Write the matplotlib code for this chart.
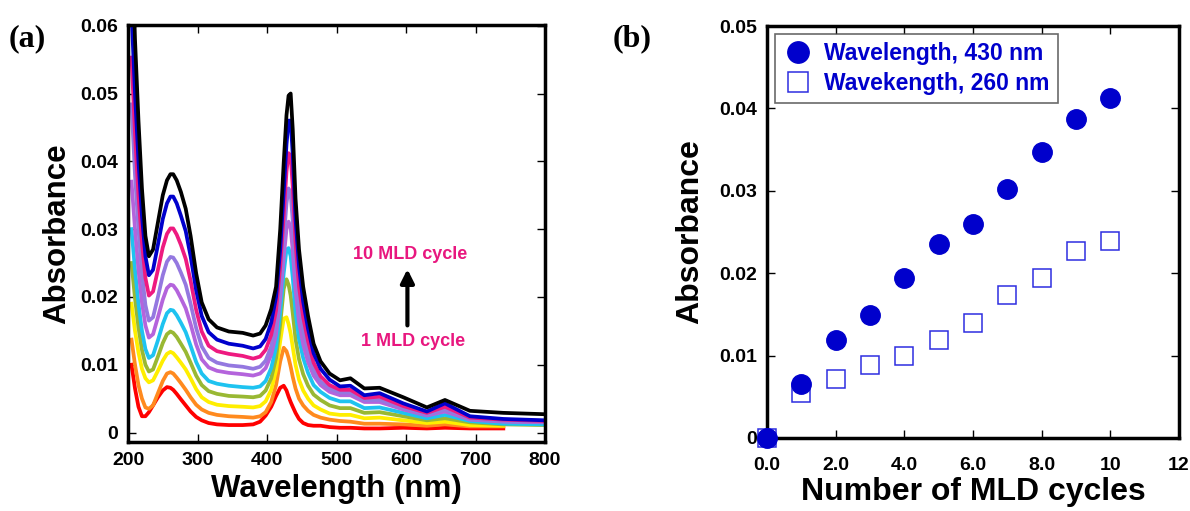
import numpy as np
import matplotlib
matplotlib.use("Agg")
import matplotlib.pyplot as plt

plt.rcParams['font.family'] = ['Liberation Sans', 'DejaVu Sans']
plt.rcParams['font.weight'] = 'bold'

# UV-vis spectra, one curve per MLD cycle (1 -> 10)
wavelength = [205, 210, 215, 220, 225, 230, 236, 243, 250, 256,
              261, 265, 270, 276, 283, 290, 298, 306, 316, 328,
              345, 365, 380, 390, 398, 406, 413, 419, 424, 428,
              431, 434, 437, 441, 446, 452, 459, 467, 477, 490,
              505, 520, 540, 562, 596, 630, 656, 692, 740, 800]
nan = np.nan

cycle1 = [0.0100, 0.0065, 0.0038, 0.0024, 0.0024, 0.0030, 0.0040, 0.0052, 0.0062, 0.0067,
          0.0066, 0.0063, 0.0057, 0.0049, 0.0040, 0.0031, 0.0023, 0.0018, 0.0014, 0.0012,
          0.0011, 0.0011, 0.0012, 0.0016, 0.0025, 0.0038, 0.0054, 0.0066, 0.0069, 0.0062,
          0.0053, 0.0045, 0.0038, 0.0029, 0.0020, 0.0014, 0.0011, 0.0010, 0.0010, 0.0008,
          0.0007, 0.0007, 0.0006, 0.0006, 0.0007, 0.0006, 0.0007, 0.0006, 0.0006, nan]
cycle2 = [0.0137, 0.0100, 0.0070, 0.0050, 0.0037, 0.0035, 0.0040, 0.0058, 0.0076, 0.0087,
          0.0089, 0.0087, 0.0081, 0.0073, 0.0063, 0.0052, 0.0041, 0.0034, 0.0029, 0.0026,
          0.0024, 0.0023, 0.0022, 0.0024, 0.0030, 0.0045, 0.0070, 0.0105, 0.0125, 0.0120,
          0.0110, 0.0097, 0.0082, 0.0065, 0.0050, 0.0040, 0.0032, 0.0026, 0.0022, 0.0019,
          0.0017, 0.0016, 0.0013, 0.0013, 0.0012, 0.0010, 0.0012, 0.0009, 0.0009, nan]
cycle3 = [0.0190, 0.0150, 0.0118, 0.0094, 0.0080, 0.0074, 0.0077, 0.0091, 0.0106, 0.0116,
          0.0119, 0.0117, 0.0111, 0.0103, 0.0093, 0.0080, 0.0064, 0.0052, 0.0045, 0.0041,
          0.0039, 0.0038, 0.0037, 0.0039, 0.0046, 0.0063, 0.0092, 0.0135, 0.0168, 0.0170,
          0.0160, 0.0146, 0.0126, 0.0100, 0.0078, 0.0062, 0.0050, 0.0040, 0.0034, 0.0028,
          0.0026, 0.0026, 0.0021, 0.0022, 0.0018, 0.0014, 0.0016, 0.0011, 0.0010, nan]
cycle4 = [0.0250, 0.0198, 0.0155, 0.0122, 0.0100, 0.0090, 0.0093, 0.0112, 0.0132, 0.0145,
          0.0149, 0.0147, 0.0141, 0.0131, 0.0119, 0.0103, 0.0084, 0.0070, 0.0061, 0.0057,
          0.0054, 0.0053, 0.0052, 0.0054, 0.0062, 0.0080, 0.0110, 0.0160, 0.0212, 0.0226,
          0.0218, 0.0202, 0.0176, 0.0138, 0.0108, 0.0086, 0.0069, 0.0056, 0.0048, 0.0040,
          0.0036, 0.0036, 0.0029, 0.0030, 0.0024, 0.0018, 0.0021, 0.0015, 0.0012, 0.0011]
cycle5 = [0.0300, 0.0240, 0.0190, 0.0150, 0.0123, 0.0110, 0.0114, 0.0136, 0.0160, 0.0176,
          0.0181, 0.0180, 0.0173, 0.0162, 0.0148, 0.0128, 0.0104, 0.0087, 0.0076, 0.0072,
          0.0069, 0.0067, 0.0066, 0.0068, 0.0076, 0.0095, 0.0126, 0.0178, 0.0235, 0.0270,
          0.0272, 0.0260, 0.0228, 0.0178, 0.0138, 0.0110, 0.0088, 0.0070, 0.0060, 0.0051,
          0.0046, 0.0046, 0.0036, 0.0037, 0.0029, 0.0021, 0.0026, 0.0017, 0.0013, 0.0012]
cycle6 = [0.0370, 0.0300, 0.0240, 0.0192, 0.0158, 0.0140, 0.0145, 0.0170, 0.0196, 0.0213,
          0.0218, 0.0217, 0.0210, 0.0198, 0.0183, 0.0160, 0.0130, 0.0108, 0.0096, 0.0091,
          0.0088, 0.0086, 0.0084, 0.0087, 0.0095, 0.0115, 0.0145, 0.0198, 0.0258, 0.0300,
          0.0311, 0.0302, 0.0268, 0.0210, 0.0163, 0.0130, 0.0104, 0.0084, 0.0070, 0.0060,
          0.0055, 0.0055, 0.0045, 0.0045, 0.0034, 0.0025, 0.0031, 0.0019, 0.0016, 0.0015]
cycle7 = [0.0484, 0.0380, 0.0300, 0.0235, 0.0188, 0.0165, 0.0170, 0.0200, 0.0232, 0.0252,
          0.0259, 0.0258, 0.0250, 0.0236, 0.0218, 0.0190, 0.0154, 0.0127, 0.0110, 0.0103,
          0.0099, 0.0097, 0.0094, 0.0097, 0.0106, 0.0127, 0.0160, 0.0218, 0.0285, 0.0338,
          0.0360, 0.0352, 0.0312, 0.0243, 0.0188, 0.0150, 0.0119, 0.0092, 0.0075, 0.0065,
          0.0059, 0.0059, 0.0048, 0.0048, 0.0036, 0.0026, 0.0034, 0.0020, 0.0017, 0.0016]
cycle8 = [0.0553, 0.0440, 0.0350, 0.0280, 0.0228, 0.0202, 0.0208, 0.0240, 0.0273, 0.0293,
          0.0301, 0.0301, 0.0292, 0.0277, 0.0256, 0.0224, 0.0181, 0.0149, 0.0128, 0.0120,
          0.0116, 0.0113, 0.0109, 0.0112, 0.0122, 0.0144, 0.0180, 0.0245, 0.0320, 0.0385,
          0.0412, 0.0408, 0.0362, 0.0280, 0.0215, 0.0170, 0.0135, 0.0103, 0.0083, 0.0070,
          0.0063, 0.0063, 0.0051, 0.0053, 0.0039, 0.0029, 0.0038, 0.0022, 0.0019, 0.0017]
cycle9 = [0.0620, 0.0500, 0.0400, 0.0320, 0.0260, 0.0232, 0.0240, 0.0277, 0.0315, 0.0338,
          0.0348, 0.0348, 0.0338, 0.0320, 0.0297, 0.0260, 0.0210, 0.0172, 0.0148, 0.0137,
          0.0131, 0.0128, 0.0124, 0.0127, 0.0138, 0.0162, 0.0200, 0.0270, 0.0355, 0.0425,
          0.0460, 0.0460, 0.0410, 0.0315, 0.0245, 0.0193, 0.0153, 0.0117, 0.0094, 0.0078,
          0.0068, 0.0069, 0.0055, 0.0058, 0.0043, 0.0031, 0.0043, 0.0024, 0.0020, 0.0018]
cycle10 = [0.0750, 0.0580, 0.0460, 0.0360, 0.0290, 0.0260, 0.0270, 0.0310, 0.0350, 0.0372,
           0.0381, 0.0381, 0.0372, 0.0355, 0.0330, 0.0290, 0.0235, 0.0192, 0.0167, 0.0155,
           0.0149, 0.0147, 0.0143, 0.0146, 0.0158, 0.0182, 0.0215, 0.0300, 0.0398, 0.0468,
           0.0497, 0.0500, 0.0447, 0.0345, 0.0270, 0.0215, 0.0172, 0.0131, 0.0105, 0.0087,
           0.0077, 0.0080, 0.0065, 0.0066, 0.0052, 0.0037, 0.0048, 0.0032, 0.0029, 0.0027]

spectra = [cycle1, cycle2, cycle3, cycle4, cycle5, cycle6, cycle7, cycle8, cycle9, cycle10]
spec_colors = ['#ff0000', '#ff8a1e', '#ffee00', '#99b833', '#1ec3f0',
               '#b464dc', '#9478e0', '#ee1a80', '#0000cc', '#000000']

# absorbance at the two peaks vs number of cycles
cycles = [0, 1, 2, 3, 4, 5, 6, 7, 8, 9, 10]
abs_430 = [0.0, 0.0065, 0.0119, 0.0149, 0.0194, 0.0235, 0.0260, 0.0302, 0.0347, 0.0387, 0.0413]
abs_260 = [0.0, 0.0054, 0.0072, 0.0089, 0.0100, 0.0119, 0.0140, 0.0174, 0.0194, 0.0227, 0.0239]

fig = plt.figure(figsize=(11.9, 5.11), dpi=100)
ax1 = fig.add_axes([0.1076, 0.135, 0.3504, 0.816])
ax2 = fig.add_axes([0.6445, 0.143, 0.3462, 0.806])

# (a) spectra
for vals, c in zip(spectra, spec_colors):
    ax1.plot(wavelength, vals, color=c, lw=2.7, solid_joinstyle='round')

ax1.set_xlim(200, 800)
ax1.set_ylim(-0.0014, 0.0601)
ax1.set_xticks([200, 300, 400, 500, 600, 700, 800])
ax1.set_yticks([0, 0.01, 0.02, 0.03, 0.04, 0.05, 0.06])
ax1.set_yticklabels(['0', '0.01', '0.02', '0.03', '0.04', '0.05', '0.06'])
ax1.set_xlabel('Wavelength (nm)', fontsize=22.5, fontweight='bold', labelpad=4)
ax1.set_ylabel('Absorbance', fontsize=22.5, fontweight='bold', labelpad=6)

ax1.text(606, 0.0262, '10 MLD cycle', color='#e8177f', fontsize=13,
         fontweight='bold', ha='center', va='center')
ax1.text(610, 0.0134, '1 MLD cycle', color='#e8177f', fontsize=13,
         fontweight='bold', ha='center', va='center')
ax1.annotate('', xy=(602, 0.0241), xytext=(602, 0.0158),
             arrowprops=dict(arrowstyle='-|>', color='black', lw=3,
                             mutation_scale=20, shrinkA=0, shrinkB=0))

# (b) peak absorbance vs cycles
ax2.plot(cycles, abs_260, ls='none', marker='s', ms=13, mfc='none',
         mec='#2d2de0', mew=1.1, clip_on=False, label='Wavekength, 260 nm', zorder=3)
ax2.plot(cycles, abs_430, ls='none', marker='o', ms=14, mfc='#0000cc',
         mec='#0000cc', clip_on=False, label='Wavelength, 430 nm', zorder=4)

ax2.set_xlim(0, 12)
ax2.set_ylim(0, 0.05)
ax2.set_xticks([0, 2, 4, 6, 8, 10, 12])
ax2.set_xticklabels(['0.0', '2.0', '4.0', '6.0', '8.0', '10', '12'])
ax2.set_yticks([0, 0.01, 0.02, 0.03, 0.04, 0.05])
ax2.set_yticklabels(['0', '0.01', '0.02', '0.03', '0.04', '0.05'])
ax2.set_xlabel('Number of MLD cycles', fontsize=23, fontweight='bold', labelpad=2)
ax2.set_ylabel('Absorbance', fontsize=23, fontweight='bold', labelpad=10)

h, l = ax2.get_legend_handles_labels()
leg = ax2.legend(h[::-1], l[::-1], loc='upper left', bbox_to_anchor=(0.0, 1.0),
                 borderaxespad=0.35, fontsize=16.5, frameon=True, fancybox=False,
                 handletextpad=0.5, borderpad=0.35, labelspacing=0.3,
                 handlelength=1.3, markerscale=1.1)
leg.get_frame().set_edgecolor('#444444')
leg.get_frame().set_linewidth(1.2)
for t in leg.get_texts():
    t.set_color('#0000cc')
    t.set_fontweight('bold')

for ax in (ax1, ax2):
    for s in ax.spines.values():
        s.set_linewidth(2.5)
    ax.tick_params(direction='in', top=True, right=True, length=6, width=1,
                   labelsize=14, pad=7)
    for lab in ax.get_xticklabels() + ax.get_yticklabels():
        lab.set_fontweight('bold')
ax2.tick_params(axis='x', pad=14)

fig.text(0.007, 0.925, '(a)', fontsize=23, fontweight='bold',
         family='Liberation Serif', va='center')
fig.text(0.515, 0.925, '(b)', fontsize=23, fontweight='bold',
         family='Liberation Serif', va='center')

fig.savefig('out.png', dpi=100)
